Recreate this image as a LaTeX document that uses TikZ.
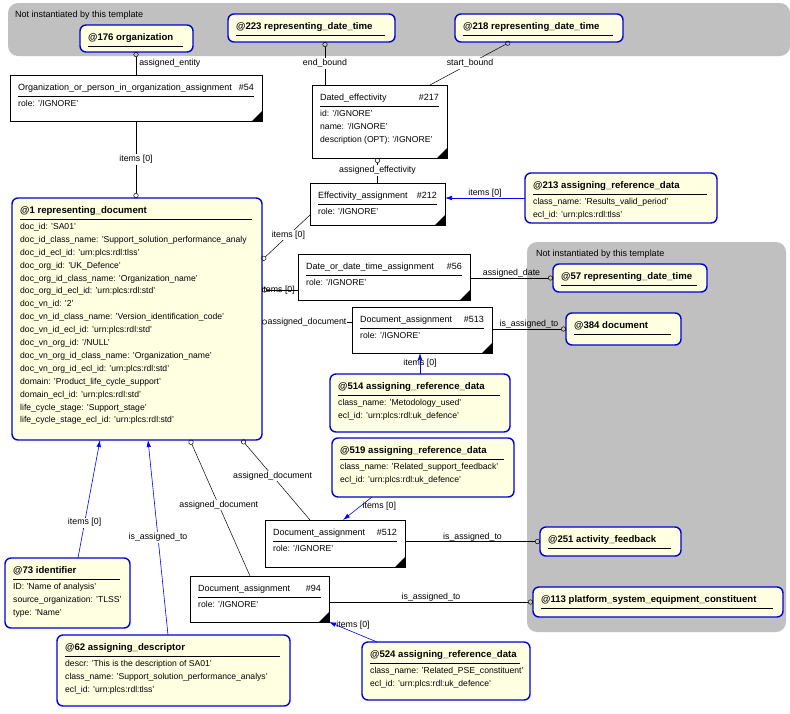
\documentclass[tikz,border=0pt]{standalone}
\usepackage{fontspec}
\setmainfont{Liberation Sans}
\usetikzlibrary{arrows.meta}
\definecolor{entfill}{HTML}{FFFFE1}
\definecolor{grayreg}{HTML}{C0C0C0}
\tikzset{
 ent/.style={draw=blue!85!black,line width=1.4pt,fill=entfill,rounded corners=6pt},
 plain/.style={draw=black,line width=0.6pt,fill=white},
 ttl/.style={anchor=north west,inner sep=0pt,font=\fontsize{9.6}{11}\selectfont\bfseries},
 ptl/.style={anchor=north west,inner sep=0pt,font=\fontsize{9}{10}\selectfont},
 attr/.style={anchor=north west,inner sep=0pt,align=left,font=\fontsize{8.6}{12.9}\selectfont},
 con/.style={draw=black,line width=0.5pt,{Circle[open,length=5pt,width=5pt]}-},
 ref/.style={draw=blue,line width=0.6pt,-{Latex[length=7pt,width=4.5pt]}},
 lab/.style={font=\fontsize{8.8}{10}\selectfont,fill=white,inner sep=1pt},
 region/.style={fill=grayreg,rounded corners=10pt},
}
\newcommand\mkbox[8]{% style,name,x1,y1,x2,y2,title,lines
 \path node[#1,anchor=north west,inner sep=0pt,outer sep=0pt,minimum width={(#5-#3)*1pt},minimum height={(#6-#4)*1pt}] (#2) at (#3,#4) {};
 \node[ttl] at (#3+8,#4+8) {#7};
 \draw[line width=0.6pt] (#3+8,#4+21) -- (#5-10,#4+21);
 \node[attr] at (#3+8,#4+25) {#8};
}
\newcommand\mkplain[8]{% name,x1,y1,x2,y2,title,number,lines
 \path node[plain,anchor=north west,inner sep=0pt,outer sep=0pt,minimum width={(#4-#2)*1pt},minimum height={(#5-#3)*1pt}] (#1) at (#2,#3) {};
 \fill (#4,#5) -- (#4-10,#5) -- (#4,#5-10) -- cycle;
 \node[ptl] at (#2+8,#3+9) {#6};
 \node[ptl,anchor=north east] at (#4-8,#3+9) {#7};
 \draw[line width=0.5pt] (#2+8,#3+21) -- (#4-8,#3+21);
 \node[attr] at (#2+8,#3+25) {#8};
}
\begin{document}
\begin{tikzpicture}[x=1pt,y=-1pt]
\useasboundingbox (0,0) rectangle (790,713);
\fill[region] (8,3) rectangle (790,56);
\node[ptl] at (15,11) {Not instantiated by this template};
\fill[region] (527,242) rectangle (786,632);
\node[ptl] at (536,250) {Not instantiated by this template};

\mkbox{ent}{org}{80}{25}{193}{52}{@176 organization}{}
\mkbox{ent}{d223}{228}{14}{395}{42}{@223 representing\_date\_time}{}
\mkbox{ent}{d218}{455}{14}{623}{42}{@218 representing\_date\_time}{}
\mkplain{a54}{10}{75}{262}{121}{Organization\_or\_person\_in\_organization\_assignment}{\#54}{role: '/IGNORE'}
\mkplain{e217}{312}{85}{447}{158}{Dated\_effectivity}{\#217}{id: '/IGNORE'\\name: '/IGNORE'\\description (OPT): '/IGNORE'}
\mkplain{e212}{310}{183}{445}{225}{Effectivity\_assignment}{\#212}{role: '/IGNORE'}
\mkbox{ent}{r213}{525}{173}{717}{223}{@213 assigning\_reference\_data}{class\_name: 'Results\_valid\_period'\\ecl\_id: 'urn:plcs:rdl:tlss'}
\mkbox{ent}{r1}{12}{198}{262}{440}{@1 representing\_document}{doc\_id: 'SA01'\\doc\_id\_class\_name: 'Support\_solution\_performance\_analy\\doc\_id\_ecl\_id: 'urn:plcs:rdl:tlss'\\doc\_org\_id: 'UK\_Defence'\\doc\_org\_id\_class\_name: 'Organization\_name'\\doc\_org\_id\_ecl\_id: 'urn:plcs:rdl:std'\\doc\_vn\_id: '2'\\doc\_vn\_id\_class\_name: 'Version\_identification\_code'\\doc\_vn\_id\_ecl\_id: 'urn:plcs:rdl:std'\\doc\_vn\_org\_id: '/NULL'\\doc\_vn\_org\_id\_class\_name: 'Organization\_name'\\doc\_vn\_org\_id\_ecl\_id: 'urn:plcs:rdl:std'\\domain: 'Product\_life\_cycle\_support'\\domain\_ecl\_id: 'urn:plcs:rdl:std'\\life\_cycle\_stage: 'Support\_stage'\\life\_cycle\_stage\_ecl\_id: 'urn:plcs:rdl:std'}
\mkplain{a56}{298}{254}{470}{300}{Date\_or\_date\_time\_assignment}{\#56}{role: '/IGNORE'}
\mkbox{ent}{d57}{553}{264}{707}{292}{@57 representing\_date\_time}{}
\mkplain{a513}{352}{307}{492}{353}{Document\_assignment}{\#513}{role: '/IGNORE'}
\mkbox{ent}{d384}{566}{313}{681}{345}{@384 document}{}
\mkbox{ent}{r514}{330}{374}{510}{432}{@514 assigning\_reference\_data}{class\_name: 'Metodology\_used'\\ecl\_id: 'urn:plcs:rdl:uk\_defence'}
\mkbox{ent}{r519}{332}{438}{514}{497}{@519 assigning\_reference\_data}{class\_name: 'Related\_support\_feedback'\\ecl\_id: 'urn:plcs:rdl:uk\_defence'}
\mkplain{a512}{265}{520}{405}{567}{Document\_assignment}{\#512}{role: '/IGNORE'}
\mkbox{ent}{f251}{540}{527}{681}{556}{@251 activity\_feedback}{}
\mkplain{a94}{190}{576}{329}{622}{Document\_assignment}{\#94}{role: '/IGNORE'}
\mkbox{ent}{p113}{533}{587}{783}{617}{@113 platform\_system\_equipment\_constituent}{}
\mkbox{ent}{i73}{5}{558}{130}{628}{@73 identifier}{ID: 'Name of analysis'\\source\_organization: 'TLSS'\\type: 'Name'}
\mkbox{ent}{g62}{57}{635}{290}{706}{@62 assigning\_descriptor}{descr: 'This is the description of SA01'\\class\_name: 'Support\_solution\_performance\_analys'\\ecl\_id: 'urn:plcs:rdl:tlss'}
\mkbox{ent}{r524}{362}{642}{530}{700}{@524 assigning\_reference\_data}{class\_name: 'Related\_PSE\_constituent'\\ecl\_id: 'urn:plcs:rdl:uk\_defence'}

% connectors
\draw[con] (a54.north |- org.south) -- node[lab,right,fill=none,xshift=2pt] {assigned\_entity} (a54.north);
\draw[con] (a54.south |- r1.north) -- node[lab] {items [0]} (a54.south);
\draw[con] ([xshift=13]e217.north west |- d223.south) -- node[lab,pos=0.5] {end\_bound} ([xshift=13]e217.north west);
\draw[con] ([xshift=55]d218.south west) -- node[lab,pos=0.5] {start\_bound} ([xshift=-17]e217.north east);
\draw[con] (e212.north |- e217.south) -- node[lab] {assigned\_effectivity} (e212.north);
\draw[ref] (r213.west) -- node[lab,above=-1pt,fill=none] {items [0]} (r213.west -| e212.east);
\draw[con] ([yshift=-62]r1.north east) -- node[lab,pos=0.55] {items [0]} ([yshift=10]e212.south west);
\draw[con] ([yshift=10]r1.east |- a56.south west) -- node[lab,fill=none,pos=0.45] {items [0]} ([yshift=10]a56.south west);
\draw[con] ([yshift=8]r1.east |- a513.west) -- node[lab,pos=0.5] {assigned\_document} ([yshift=8]a513.west);
\draw[con] (d384.west) -- node[lab,above=-1pt,fill=none] {is\_assigned\_to} (d384.west -| a513.east);
\draw[con] (d57.west) -- node[lab,above=-1pt,fill=none] {assigned\_date} (d57.west -| a56.east);
\draw[ref] (r514.north) -- node[lab,fill=none] {items [0]} (r514.north |- a513.south);
\draw[ref] ([xshift=40]r519.south west) -- node[lab,fill=none,pos=0.4,right=1pt] {items [0]} ([xshift=78]a512.north west);
\draw[con] (f251.west) -- node[lab,above=-1pt,fill=none] {is\_assigned\_to} (f251.west -| a512.east);
\draw[con] (p113.west) -- node[lab,above=-1pt,fill=none] {is\_assigned\_to} (p113.west -| a94.east);
\draw[con] ([xshift=-20]r1.south east) -- node[lab,pos=0.45] {assigned\_document} ([xshift=45]a512.north west);
\draw[con] ([xshift=178]r1.south west) -- node[lab,pos=0.48] {assigned\_document} ([xshift=60]a94.north west);
\draw[ref] ([xshift=73]i73.north west) -- node[lab,pos=0.3] {items [0]} ([xshift=88]r1.south west);
\draw[ref] ([xshift=111]g62.north west) -- node[lab,pos=0.5] {is\_assigned\_to} ([xshift=136]r1.south west);
\draw[ref] ([xshift=15]r524.north west) -- node[lab,fill=none,pos=0.5,above=1pt] {items [0]} (a94.south east);
\end{tikzpicture}
\end{document}
